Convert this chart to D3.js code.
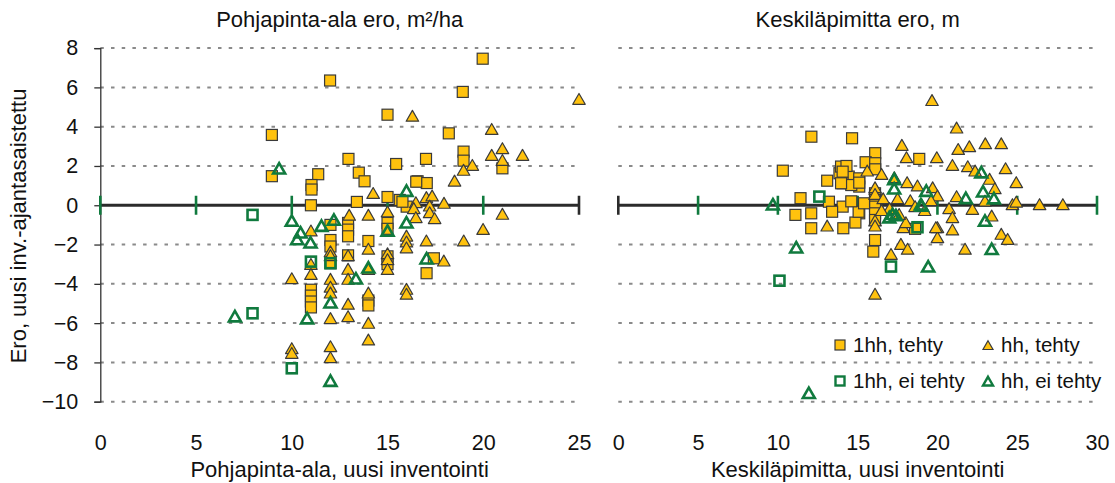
<!DOCTYPE html>
<html>
<head>
<meta charset="utf-8">
<script src="https://cdn.jsdelivr.net/npm/d3@7"></script>
<style>
  body { margin: 0; background: #fff; }
  svg text { font-family: "Liberation Sans", Arial, Helvetica, sans-serif; fill: #111; }
</style>
</head>
<body>
<div id="chart"></div>
<script>
// tick values
const yTicks = [8, 6, 4, 2, 0, -2, -4, -6, -8, -10];
const xTicksLeft = [0, 5, 10, 15, 20, 25];
const xTicksRight = [0, 5, 10, 15, 20, 25, 30];

// texts
const titleLeft = "Pohjapinta-ala ero, m\u00b2/ha";
const titleRight = "Keskiläpimitta ero, m";
const xTitleLeft = "Pohjapinta-ala, uusi inventointi";
const xTitleRight = "Keskiläpimitta, uusi inventointi";
const yTitle = "Ero, uusi inv.-ajantasaistettu";
const seriesNames = ["1hh, tehty", "hh, tehty", "1hh, ei tehty", "hh, ei tehty"];

// left panel: basal area [x, diff]
const sqDoneLeft = [
  [8.96,3.58],[8.96,1.48],[12.0,6.35],[15.0,4.61],[18.2,3.66],[18.97,2.73],[18.97,2.27],[19.97,7.46],
  [18.93,5.77],[12.96,2.36],[15.45,2.10],[17.01,2.36],[11.38,1.58],[13.5,1.66],[13.8,1.22],[11.03,1.03],
  [11.03,0.8],[16.57,1.22],[17.05,1.13],[16.5,1.2],[21.0,1.88],[11.0,0.0],[13.4,0.17],[15.0,0.42],
  [15.64,0.27],[16.0,-0.07],[15.78,0.18],[12.02,-1.0],[12.94,-0.9],[12.94,-1.24],[12.94,-1.58],
  [12.02,-1.77],[12.02,-2.1],[14.0,-1.82],[12.94,-2.55],[12.02,-2.95],[15.0,-0.9],[15.0,-1.2],
  [15.0,-2.6],[15.0,-3.0],[17.42,-2.7],[17.04,-3.46],[11.0,-4.3],[11.0,-4.6],[11.0,-4.9],[11.0,-5.2],
  [14.0,-4.85],[14.0,-5.1]
];
const triDoneLeft = [
  [25.0,5.36],[16.3,4.5],[20.44,3.83],[21.0,2.85],[20.44,2.51],[22.05,2.51],[21.0,2.25],[19.43,2.0],
  [18.97,1.75],[18.5,1.2],[14.25,0.57],[17.03,0.36],[17.33,0.44],[16.48,0.1],[16.37,-0.2],[17.2,-0.07],
  [17.2,-0.41],[17.46,-0.71],[16.48,-0.66],[17.95,0.07],[21.0,-0.49],[13.0,-0.54],[14.0,-0.54],
  [15.0,-0.37],[19.99,-1.26],[18.98,-1.85],[17.03,-1.85],[11.0,-1.34],[14.0,-2.27],[12.02,-2.4],
  [12.02,-2.6],[11.0,-3.04],[11.0,-3.55],[12.94,-2.6],[12.94,-3.29],[12.94,-3.8],[10.0,-3.77],
  [15.99,-1.6],[15.99,-1.9],[15.99,-2.2],[15.0,-2.5],[15.0,-2.8],[15.0,-3.3],[17.94,-2.87],
  [15.99,-4.31],[15.99,-4.56],[12.02,-3.8],[12.02,-4.2],[12.02,-4.5],[14.0,-4.5],[14.0,-3.3],
  [12.94,-5.07],[12.94,-5.7],[12.02,-5.8],[14.0,-6.04],[14.0,-6.89],[10.0,-7.33],[10.0,-7.57],
  [12.02,-7.23],[12.02,-7.79]
];
const sqNotLeft = [[7.95,-0.49],[11.0,-2.87],[12.02,-2.95],[7.95,-5.5],[10.0,-8.3]];
const triNotLeft = [
  [9.34,1.83],[15.99,0.69],[10.0,-0.83],[10.46,-1.43],[10.28,-1.77],[10.98,-1.94],[11.55,-1.09],
  [12.2,-0.78],[15.0,-1.34],[15.99,-0.92],[14.0,-3.21],[13.35,-3.77],[17.04,-2.75],[12.02,-4.99],
  [7.03,-5.7],[10.8,-5.8],[12.02,-8.98]
];

// right panel: mean diameter [x, diff]
const sqDoneRight = [
  [12.1,3.49],[14.65,3.41],[10.31,1.76],[16.1,2.65],[15.5,2.19],[16.1,2.14],[16.1,1.83],[14.06,1.93],
  [14.27,1.54],[14.44,1.46],[15.1,1.37],[13.09,1.25],[15.1,0.95],[14.06,1.12],[14.6,1.03],[18.86,2.36],
  [11.42,0.36],[13.2,0.18],[14.06,-0.07],[13.4,-0.33],[15.1,-0.41],[11.1,-0.49],[12.09,-0.41],
  [12.09,-1.17],[14.1,-1.17],[14.86,-0.88],[15.06,-0.33],[16.09,0.61],[16.09,0.27],[16.09,-0.07],
  [16.09,-0.41],[16.09,-0.75],[16.09,-1.77],[15.98,-2.36],[18.6,-1.2],[15.4,0.1],[14.6,0.2],
  [13.86,1.63],[13.96,1.97],[14.3,2.0],[14.06,1.71],[15.1,1.15],[13.96,1.12]
];
const triDoneRight = [
  [19.66,5.3],[21.2,3.9],[22.0,2.95],[23.0,3.1],[24.0,3.1],[17.77,3.02],[18.06,2.39],[19.96,2.39],
  [20.94,2.0],[21.3,2.81],[21.9,1.93],[22.36,1.71],[24.27,1.83],[24.94,1.12],[23.27,1.29],[23.6,0.81],
  [22.98,0.18],[24.7,0.0],[24.94,0.13],[26.4,0.0],[27.86,0.0],[21.2,0.41],[20.73,-0.2],[22.19,-0.24],
  [20.94,-0.66],[20.0,-1.17],[20.94,-1.29],[20.0,-1.68],[23.4,-0.58],[24.0,-1.51],[24.4,-1.77],
  [21.73,-2.27],[17.09,-2.53],[17.71,-2.02],[18.13,-2.27],[17.86,-1.17],[18.02,-0.92],[16.09,-4.56],
  [15.6,1.71],[16.5,1.54],[17.3,1.37],[18.1,1.12],[18.75,0.95],[19.7,0.86],[20.0,0.44],[16.1,0.78],
  [16.09,0.86],[16.09,0.52],[16.09,-0.83],[16.09,-1.09],[13.09,-1.09],[19.9,-1.17],[17.5,0.3],
  [18.3,0.2],[17.0,-0.2],[18.6,-0.1],[19.2,-0.3],[19.6,0.2],[17.6,-0.5],[16.6,0.3],[16.5,-0.3]
];
const sqNotRight = [[12.6,0.44],[10.1,-3.84],[17.09,-3.12],[18.75,-1.12]];
const triNotRight = [
  [9.69,0.0],[11.15,-2.19],[17.29,1.29],[17.29,0.81],[19.3,0.69],[19.02,-0.07],[22.75,1.63],
  [22.86,0.66],[23.54,0.31],[21.78,0.32],[22.98,-0.83],[23.4,-2.27],[19.42,-3.16],[17.19,-0.49],
  [16.98,-0.66],[17.4,-0.55],[18.96,0.0],[11.94,-9.6]
];

const W = 1115, H = 483;
const gold = "#FFC20E", goldEdge = "#3a3a3a", green = "#107A3E", zeroColor = "#2b2b2b";
const tickFont = "21.5px", titleFont = "22px", legendFont = "20.5px";

const svg = d3.select("#chart").append("svg")
  .attr("width", W).attr("height", H);

const y = d3.scaleLinear().domain([-10, 8]).range([401.7, 48.1]);
const xLeft = d3.scaleLinear().domain([0, 25]).range([100.3, 579]);
const xRight = d3.scaleLinear().domain([0, 30]).range([618.3, 1097]);

const tri = (cx, cy, s) => {
  const h = s * 0.87;
  return `M${cx},${cy - h * 0.6}L${cx + s / 2},${cy + h * 0.4}L${cx - s / 2},${cy + h * 0.4}Z`;
};

function drawPanel(x, xTicks, zeroTickColors, data, opts) {
  const g = svg.append("g");
  const [x0, x1] = x.range();

  // dotted gridlines
  g.selectAll(".grid").data(yTicks.filter(d => d !== 0)).join("line")
    .attr("x1", x0).attr("x2", x1)
    .attr("y1", d => y(d)).attr("y2", d => y(d))
    .attr("stroke", "#8a8a8a").attr("stroke-width", 2)
    .attr("stroke-dasharray", "3.5,7.2");

  if (opts.yAxis) {
    const ya = g.append("g").attr("transform", `translate(${x0},0)`)
      .call(d3.axisLeft(y).tickValues(yTicks).tickSize(6).tickPadding(16));
    ya.select(".domain").attr("stroke", "#333").attr("stroke-width", 1.3);
    ya.selectAll(".tick line").attr("stroke", "#333").attr("stroke-width", 1.3);
    ya.selectAll("text").style("font-size", tickFont).attr("fill", "#111");
  }

  // bottom tick labels
  const xa = g.append("g").attr("transform", `translate(0,432)`)
    .call(d3.axisBottom(x).tickValues(xTicks).tickSize(0).tickPadding(3));
  xa.select(".domain").remove();
  xa.selectAll("text").style("font-size", tickFont).attr("fill", "#111");

  // zero line with cross ticks
  g.append("line").attr("x1", x0).attr("x2", x1)
    .attr("y1", y(0)).attr("y2", y(0))
    .attr("stroke", zeroColor).attr("stroke-width", 3);
  g.selectAll(".zt").data(xTicks).join("line")
    .attr("x1", d => x(d)).attr("x2", d => x(d))
    .attr("y1", y(0) - 9.5).attr("y2", y(0) + 9.5)
    .attr("stroke", (d, i) => zeroTickColors[i]).attr("stroke-width", 2.6);

  const s = 11;
  g.selectAll(".sq1").data(data.sqDone).join("rect")
    .attr("x", d => x(d[0]) - s / 2).attr("y", d => y(d[1]) - s / 2)
    .attr("width", s).attr("height", s)
    .attr("fill", gold).attr("stroke", goldEdge).attr("stroke-width", 1.2);
  g.selectAll(".tr1").data(data.triDone).join("path")
    .attr("d", d => tri(x(d[0]), y(d[1]), 12.5))
    .attr("fill", gold).attr("stroke", goldEdge).attr("stroke-width", 1.2)
    .attr("stroke-linejoin", "round");
  g.selectAll(".sq2").data(data.sqNot).join("rect")
    .attr("x", d => x(d[0]) - s / 2 + 0.5).attr("y", d => y(d[1]) - s / 2 + 0.5)
    .attr("width", s - 1).attr("height", s - 1)
    .attr("fill", "none").attr("stroke", green).attr("stroke-width", 2.6);
  g.selectAll(".tr2").data(data.triNot).join("path")
    .attr("d", d => tri(x(d[0]), y(d[1]), 12))
    .attr("fill", "none").attr("stroke", green).attr("stroke-width", 2.6);

  g.append("text").attr("x", (x0 + x1) / 2).attr("y", 27)
    .attr("text-anchor", "middle").style("font-size", titleFont).text(opts.title);
  g.append("text").attr("x", (x0 + x1) / 2).attr("y", 477)
    .attr("text-anchor", "middle").style("font-size", titleFont).text(opts.xTitle);
}

const gc = green, dc = zeroColor;
drawPanel(xLeft, xTicksLeft, [gc, gc, gc, gc, gc, dc],
  { sqDone: sqDoneLeft, triDone: triDoneLeft, sqNot: sqNotLeft, triNot: triNotLeft },
  { yAxis: true, title: titleLeft, xTitle: xTitleLeft });
drawPanel(xRight, xTicksRight, [dc, gc, gc, gc, gc, gc, gc],
  { sqDone: sqDoneRight, triDone: triDoneRight, sqNot: sqNotRight, triNot: triNotRight },
  { yAxis: false, title: titleRight, xTitle: xTitleRight });

// y title
svg.append("text")
  .attr("transform", "translate(26,226) rotate(-90)")
  .attr("text-anchor", "middle").style("font-size", titleFont).text(yTitle);

// legend
const legendPos = [[840, 345], [988, 345], [840, 381], [988, 381]];
const lg = svg.append("g");
seriesNames.forEach((name, i) => {
  const [lx, ly] = legendPos[i];
  if (i === 0) lg.append("rect").attr("x", lx - 5).attr("y", ly - 5).attr("width", 10).attr("height", 10)
    .attr("fill", gold).attr("stroke", goldEdge).attr("stroke-width", 1.2);
  if (i === 1) lg.append("path").attr("d", tri(lx, ly + 1, 10))
    .attr("fill", gold).attr("stroke", goldEdge).attr("stroke-width", 1.2);
  if (i === 2) lg.append("rect").attr("x", lx - 4.5).attr("y", ly - 4.5).attr("width", 9).attr("height", 9)
    .attr("fill", "none").attr("stroke", green).attr("stroke-width", 2.4);
  if (i === 3) lg.append("path").attr("d", tri(lx, ly + 1, 10))
    .attr("fill", "none").attr("stroke", green).attr("stroke-width", 2.4);
  lg.append("text").attr("x", lx + 13).attr("y", ly).attr("dy", "0.35em")
    .style("font-size", legendFont).text(name);
});
</script>
</body>
</html>
